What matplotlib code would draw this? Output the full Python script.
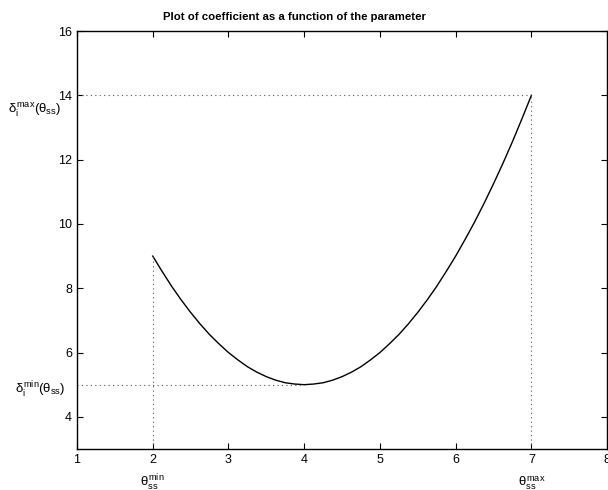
import matplotlib
matplotlib.use('Agg')
import matplotlib.pyplot as plt
from matplotlib.transforms import blended_transform_factory

plt.rcParams['font.family'] = ['Liberation Sans', 'DejaVu Sans']
plt.rcParams['mathtext.fontset'] = 'custom'
plt.rcParams['mathtext.rm'] = 'Liberation Sans'
plt.rcParams['mathtext.it'] = 'Liberation Sans'

# curve
theta = [2.0, 2.125, 2.25, 2.375, 2.5, 2.625, 2.75, 2.875, 3.0, 3.125, 3.25,
         3.375, 3.5, 3.625, 3.75, 3.875, 4.0, 4.125, 4.25, 4.375, 4.5,
         4.625, 4.75, 4.875, 5.0, 5.125, 5.25, 5.375, 5.5, 5.625, 5.75,
         5.875, 6.0, 6.125, 6.25, 6.375, 6.5, 6.625, 6.75, 6.875, 7.0]
delta = [9.0, 8.52, 8.06, 7.64, 7.25, 6.89, 6.56, 6.27, 6.0, 5.77, 5.56,
         5.39, 5.25, 5.14, 5.06, 5.02, 5.0, 5.02, 5.06, 5.14, 5.25,
         5.39, 5.56, 5.77, 6.0, 6.27, 6.56, 6.89, 7.25, 7.64, 8.06,
         8.52, 9.0, 9.52, 10.06, 10.64, 11.25, 11.89, 12.56, 13.27, 14.0]

theta_min, theta_max = 2.0, 7.0
theta_at_dmin = 4.0
delta_min, delta_max = 5.0, 14.0
delta_start = 9.0

xticks = [1, 2, 3, 4, 5, 6, 7, 8]
yticks = [4, 6, 8, 10, 12, 14, 16]

fig = plt.figure(figsize=(6.08, 4.90), dpi=100)
ax = fig.add_axes([0.1266, 0.0837, 0.872, 0.853])

ax.plot(theta, delta, color='black', lw=1.0)

dot = dict(color='#555555', ls=(0, (1, 3)), lw=0.8)
ax.plot([1, theta_max], [delta_max, delta_max], **dot)
ax.plot([theta_max, theta_max], [3, delta_max], **dot)
ax.plot([1, theta_at_dmin], [delta_min, delta_min], **dot)
ax.plot([theta_min, theta_min], [3, delta_start], **dot)

ax.set_xlim(1, 8)
ax.set_ylim(3, 16)
ax.set_xticks(xticks)
ax.set_yticks(yticks)
ax.tick_params(direction='in', top=True, right=True, labelsize=9, length=4, width=0.8)
for s in ax.spines.values():
    s.set_linewidth(1.0)

ax.set_title('Plot of coefficient as a function of the parameter',
             fontsize=8.2, fontweight='bold', x=0.411, pad=8)

ty = blended_transform_factory(ax.transAxes, ax.transData)
ax.text(-0.131, delta_max - 0.45, r'$\delta_{\rm i}^{\rm max}(\theta_{\rm ss})$',
        transform=ty, ha='left', va='center', fontsize=9.5)
ax.text(-0.116, delta_min - 0.15, r'$\delta_{\rm i}^{\rm min}(\theta_{\rm ss})$',
        transform=ty, ha='left', va='center', fontsize=9.5)

tx = blended_transform_factory(ax.transData, ax.transAxes)
ax.text(theta_min, -0.082, r'$\theta_{\rm ss}^{\rm min}$',
        transform=tx, ha='center', va='center', fontsize=9.5)
ax.text(theta_max, -0.082, r'$\theta_{\rm ss}^{\rm max}$',
        transform=tx, ha='center', va='center', fontsize=9.5)

fig.savefig('out.png', dpi=100)
